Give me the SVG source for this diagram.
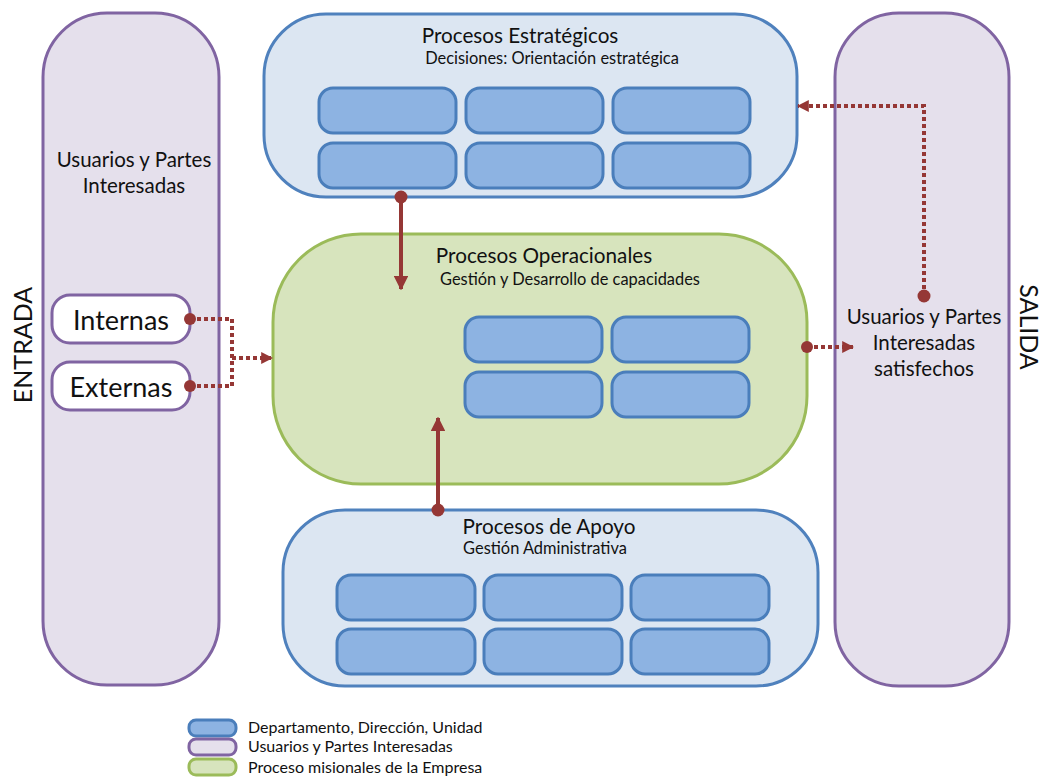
<svg xmlns="http://www.w3.org/2000/svg" width="1043" height="777" viewBox="0 0 1043 777">
  <style>
    text { font-family: Lato, "Open Sans", "Liberation Sans", sans-serif; fill: #111; }
    .users { fill: #E5E0EC; stroke: #8064A2; stroke-width: 3; }
    .tag { fill: #FFFFFF; stroke: #8064A2; stroke-width: 3; }
    .group { fill: #DCE6F2; stroke: #4F81BD; stroke-width: 3; }
    .mission { fill: #D7E4BD; stroke: #9BBB59; stroke-width: 3; }
    .unit { fill: #8DB3E2; stroke: #4A7EBB; stroke-width: 3; }
    .flow { fill: none; stroke: #953735; stroke-width: 4; }
    .dotted { fill: none; stroke: #953735; stroke-width: 4; stroke-dasharray: 4 3; }
    .dot { fill: #953735; }
    .title { font-size: 20.7px; }
    .sub { font-size: 16.4px; }
    .side { font-size: 20.5px; }
    .legend { font-size: 16px; }
  </style>
  <defs>
    <marker id="head" viewBox="0 0 10 10" refX="9" refY="5" markerWidth="3.6" markerHeight="3.6" orient="auto" markerUnits="strokeWidth">
      <path d="M0,0 L10,5 L0,10 Z" fill="#953735"/>
    </marker>
    <marker id="headSmall" viewBox="0 0 10 10" refX="9" refY="5" markerWidth="3" markerHeight="3" orient="auto" markerUnits="strokeWidth">
      <path d="M0,0 L10,5 L0,10 Z" fill="#953735"/>
    </marker>
  </defs>

  <!-- input column -->
  <g id="entrada">
    <rect class="users" x="43" y="13" width="176" height="672" rx="64" ry="64"/>
    <text class="side" x="134" y="167" text-anchor="middle">Usuarios y Partes</text>
    <text class="side" x="134" y="193" text-anchor="middle">Interesadas</text>
    <text x="22" y="345" font-size="25" text-anchor="middle" transform="rotate(-90 22 345)" dominant-baseline="central">ENTRADA</text>
  </g>
  <g id="internas">
    <rect class="tag" x="52" y="295" width="138" height="48" rx="18" ry="18"/>
    <text x="121" y="330" font-size="27" text-anchor="middle">Internas</text>
  </g>
  <g id="externas">
    <rect class="tag" x="52" y="362" width="138" height="48" rx="18" ry="18"/>
    <text x="121" y="397" font-size="27" text-anchor="middle">Externas</text>
  </g>

  <!-- output column -->
  <g id="salida">
    <rect class="users" x="835" y="13" width="174" height="673" rx="64" ry="64"/>
    <text class="side" x="924" y="324" text-anchor="middle">Usuarios y Partes</text>
    <text class="side" x="924" y="350" text-anchor="middle">Interesadas</text>
    <text class="side" x="924" y="376" text-anchor="middle">satisfechos</text>
    <text x="1030" y="327" font-size="25" text-anchor="middle" transform="rotate(90 1030 327)" dominant-baseline="central">SALIDA</text>
  </g>

  <!-- strategic processes -->
  <g id="estrategicos">
    <rect class="group" x="264" y="14" width="533" height="183" rx="62" ry="62"/>
    <text class="title" x="520" y="43" text-anchor="middle">Procesos Estratégicos</text>
    <text class="sub" x="552" y="64" text-anchor="middle">Decisiones: Orientación estratégica</text>
    <rect class="unit" x="319" y="88" width="137" height="45" rx="14"/>
    <rect class="unit" x="466" y="88" width="137" height="45" rx="14"/>
    <rect class="unit" x="613" y="88" width="137" height="45" rx="14"/>
    <rect class="unit" x="319" y="143" width="137" height="45" rx="14"/>
    <rect class="unit" x="466" y="143" width="137" height="45" rx="14"/>
    <rect class="unit" x="613" y="143" width="137" height="45" rx="14"/>
  </g>

  <!-- operational processes -->
  <g id="operacionales">
    <rect class="mission" x="273" y="234" width="534" height="250" rx="88" ry="88"/>
    <text class="title" x="544" y="263" text-anchor="middle">Procesos Operacionales</text>
    <text class="sub" x="570" y="285" text-anchor="middle">Gestión y Desarrollo de capacidades</text>
    <rect class="unit" x="465" y="317" width="137" height="45" rx="14"/>
    <rect class="unit" x="612" y="317" width="137" height="45" rx="14"/>
    <rect class="unit" x="465" y="372" width="137" height="45" rx="14"/>
    <rect class="unit" x="612" y="372" width="137" height="45" rx="14"/>
  </g>

  <!-- support processes -->
  <g id="apoyo">
    <rect class="group" x="283" y="510" width="535" height="176" rx="62" ry="62"/>
    <text class="title" x="549" y="534" text-anchor="middle">Procesos de Apoyo</text>
    <text class="sub" x="545" y="554" text-anchor="middle">Gestión Administrativa</text>
    <rect class="unit" x="337" y="575" width="138" height="45" rx="14"/>
    <rect class="unit" x="484" y="575" width="138" height="45" rx="14"/>
    <rect class="unit" x="631" y="575" width="138" height="45" rx="14"/>
    <rect class="unit" x="337" y="629" width="138" height="45" rx="14"/>
    <rect class="unit" x="484" y="629" width="138" height="45" rx="14"/>
    <rect class="unit" x="631" y="629" width="138" height="45" rx="14"/>
  </g>

  <!-- connectors -->
  <g id="connectors">
    <path class="dotted" d="M190,319 H232 V386 H190"/>
    <path class="dotted" d="M232,358 H272" marker-end="url(#headSmall)"/>
    <circle class="dot" cx="190" cy="319" r="6"/>
    <circle class="dot" cx="190" cy="386" r="6"/>

    <path class="flow" d="M401,197 V289" marker-end="url(#head)"/>
    <circle class="dot" cx="401" cy="197" r="6.5"/>

    <path class="flow" d="M438,510 V418" marker-end="url(#head)"/>
    <circle class="dot" cx="438" cy="510" r="6.5"/>

    <path class="dotted" d="M807,347 H853" marker-end="url(#headSmall)"/>
    <circle class="dot" cx="807" cy="347" r="6"/>

    <path class="dotted" d="M924,296 V106 H798" marker-end="url(#headSmall)"/>
    <circle class="dot" cx="924" cy="296" r="6.5"/>
  </g>

  <!-- legend -->
  <g id="legend">
    <rect class="unit" x="189" y="720" width="47" height="16" rx="7"/>
    <rect class="users" x="189" y="739" width="47" height="16" rx="7"/>
    <rect class="mission" x="189" y="759" width="47" height="16" rx="7"/>
    <text class="legend" x="248" y="733">Departamento, Dirección, Unidad</text>
    <text class="legend" x="248" y="752">Usuarios y Partes Interesadas</text>
    <text class="legend" x="248" y="773">Proceso misionales de la Empresa</text>
  </g>
</svg>
